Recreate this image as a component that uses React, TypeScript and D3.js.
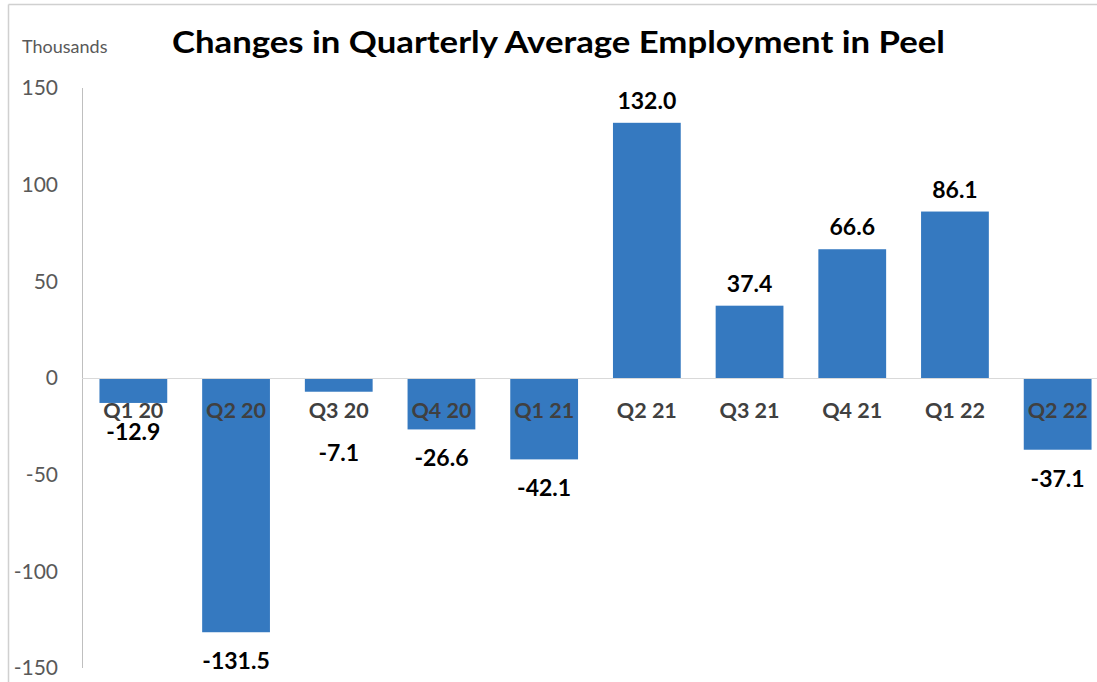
import React, { useRef, useEffect } from 'react';
import * as d3 from 'd3';

const quarters = ['Q1 20', 'Q2 20', 'Q3 20', 'Q4 20', 'Q1 21', 'Q2 21', 'Q3 21', 'Q4 21', 'Q1 22', 'Q2 22'];
const changes = [-12.9, -131.5, -7.1, -26.6, -42.1, 132.0, 37.4, 66.6, 86.1, -37.1];
const yTicks = [150, 100, 50, 0, -50, -100, -150];

const W = 1097;
const H = 682;
const FONT = 'Lato, "Open Sans", sans-serif';

const App = () => {
  const svgRef = useRef<SVGSVGElement | null>(null);

  useEffect(() => {
    document.body.style.margin = '0';
    const svg = d3.select(svgRef.current);
    svg.selectAll('*').remove();

    // outer frame (partially cropped)
    svg.append('line').attr('x1', 8.5).attr('x2', 8.5).attr('y1', 4.5).attr('y2', H)
      .attr('stroke', '#d0d0d0').attr('stroke-width', 1.5);
    svg.append('line').attr('x1', 8.5).attr('x2', W).attr('y1', 4.5).attr('y2', 4.5)
      .attr('stroke', '#d0d0d0').attr('stroke-width', 1.5);

    const x = d3.scaleBand<string>()
      .domain(quarters)
      .range([82, 1109])
      .paddingInner(0.34)
      .paddingOuter(0.17);

    const y = d3.scaleLinear().domain([-150, 150]).range([668, 88]);

    // y axis line
    svg.append('line').attr('x1', 82.5).attr('x2', 82.5).attr('y1', y(150)).attr('y2', y(-150))
      .attr('stroke', '#bfbfbf').attr('stroke-width', 1);

    // tick labels
    svg.append('g').selectAll('text')
      .data(yTicks)
      .enter()
      .append('text')
      .attr('x', 58)
      .attr('y', d => y(d))
      .attr('dy', '0.35em')
      .attr('text-anchor', 'end')
      .style('font-family', FONT)
      .style('font-size', '21px')
      .attr('fill', '#595959')
      .text(d => d);

    // bars
    svg.append('g').selectAll('rect')
      .data(changes)
      .enter()
      .append('rect')
      .attr('x', (d, i) => x(quarters[i])!)
      .attr('width', x.bandwidth())
      .attr('y', d => y(Math.max(0, d)))
      .attr('height', d => Math.abs(y(d) - y(0)))
      .attr('fill', '#3579c0');

    // zero line
    svg.append('line').attr('x1', 82).attr('x2', W).attr('y1', y(0) + 0.5).attr('y2', y(0) + 0.5)
      .attr('stroke', '#d9d9d9').attr('stroke-width', 1);

    // category labels
    svg.append('g').selectAll('text')
      .data(quarters)
      .enter()
      .append('text')
      .attr('x', d => x(d)! + x.bandwidth() / 2)
      .attr('y', y(0) + 32)
      .attr('dy', '0.35em')
      .attr('text-anchor', 'middle')
      .style('font-family', FONT)
      .style('font-size', '21.5px')
      .style('font-weight', 'bold')
      .attr('fill', '#404040')
      .text(d => d);

    // value labels
    svg.append('g').selectAll('text')
      .data(changes)
      .enter()
      .append('text')
      .attr('x', (d, i) => x(quarters[i])! + x.bandwidth() / 2)
      .attr('y', d => {
        if (d >= 0) return y(d) - 22;
        const ly = y(d) + 29;
        return ly < 425 ? 453 : ly;
      })
      .attr('dy', '0.35em')
      .attr('text-anchor', 'middle')
      .style('font-family', FONT)
      .style('font-size', '23px')
      .style('font-weight', 'bold')
      .attr('fill', '#000')
      .text(d => d.toFixed(1));

    // unit label
    svg.append('text')
      .attr('x', 22).attr('y', 47).attr('dy', '0.35em')
      .style('font-family', FONT).style('font-size', '18px')
      .attr('fill', '#595959')
      .text('Thousands');

    // title
    svg.append('text')
      .attr('x', 172).attr('y', 42).attr('dy', '0.35em')
      .attr('textLength', 773)
      .attr('lengthAdjust', 'spacingAndGlyphs')
      .style('font-family', FONT).style('font-size', '31px').style('font-weight', 'bold')
      .attr('fill', '#000')
      .text('Changes in Quarterly Average Employment in Peel');
  }, []);

  return <svg ref={svgRef} width={W} height={H} style={{ display: 'block' }}></svg>;
};

export default App;
